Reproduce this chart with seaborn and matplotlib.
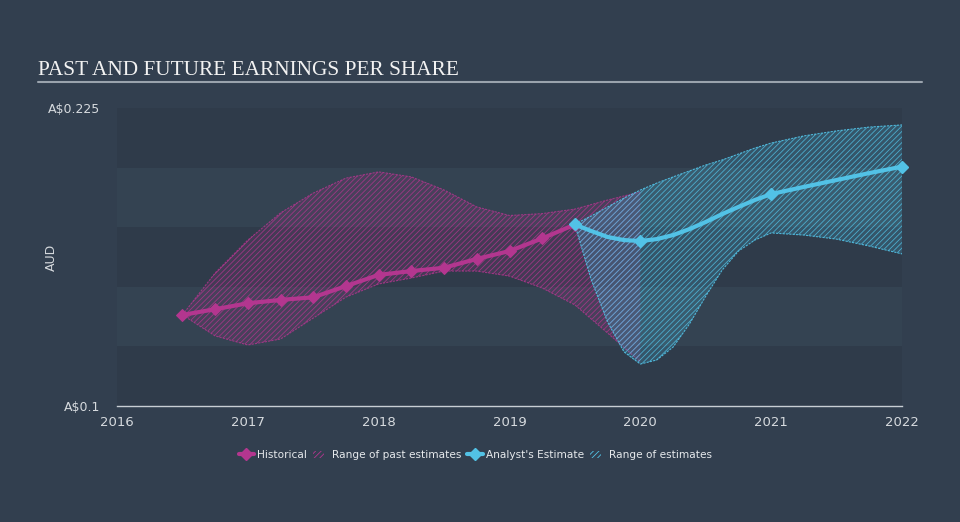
import numpy as np
import pandas as pd
import seaborn as sns
import matplotlib.pyplot as plt
from matplotlib.lines import Line2D
from matplotlib.patches import Patch

# historical EPS (quarterly, decimal years)
hist_years = [2016.5, 2016.75, 2017.0, 2017.25, 2017.5, 2017.75, 2018.0, 2018.25,
              2018.5, 2018.75, 2019.0, 2019.25, 2019.5]
hist_eps = [0.1382, 0.1406, 0.1431, 0.1445, 0.1456, 0.1503, 0.1550, 0.1566,
            0.1580, 0.1617, 0.1650, 0.1703, 0.1761]

# range of past estimates
past_years = [2016.5, 2016.75, 2017.0, 2017.25, 2017.5, 2017.75, 2018.0, 2018.25,
              2018.5, 2018.75, 2019.0, 2019.25, 2019.5, 2019.75, 2020.0]
past_high = [0.1382, 0.1558, 0.1696, 0.1810, 0.1893, 0.1956, 0.1982, 0.1961,
             0.1906, 0.1835, 0.1799, 0.1807, 0.1826, 0.1864, 0.1898]
past_low = [0.1382, 0.1294, 0.1256, 0.1281, 0.1369, 0.1457, 0.1512, 0.1537,
            0.1566, 0.1566, 0.1545, 0.1495, 0.1424, 0.1306, 0.1185]

# analyst estimates
est_years = [2019.5, 2020.0, 2021.0, 2022.0]
est_eps = [0.1763, 0.1692, 0.1889, 0.2004]
band_years = [2019.5, 2019.625, 2019.75, 2019.875, 2020.0, 2020.125, 2020.25, 2020.375,
              2020.5, 2020.625, 2020.75, 2020.875, 2021.0, 2021.25, 2021.5, 2021.75, 2022.0]
est_line_eps = [0.1761, 0.1734, 0.1709, 0.1696, 0.1692, 0.1700, 0.1717, 0.1742,
                0.1772, 0.1805, 0.1835, 0.1864, 0.1889, 0.1919, 0.1948, 0.1977, 0.2004]
est_high = [0.1763, 0.1797, 0.1835, 0.1872, 0.1906, 0.1935, 0.1961, 0.1986,
            0.2011, 0.2032, 0.2057, 0.2082, 0.2103, 0.2133, 0.2154, 0.2170, 0.2179]
est_low = [0.1759, 0.1529, 0.1352, 0.1227, 0.1176, 0.1193, 0.1247, 0.1344,
           0.1461, 0.1570, 0.1650, 0.1696, 0.1726, 0.1717, 0.1700, 0.1671, 0.1638]

year_ticks = [2016, 2017, 2018, 2019, 2020, 2021, 2022]

bg = '#323f4f'
dark_band = '#2f3b4a'
light_band = '#344352'
magenta = '#b3368f'
blue = '#52c2e6'
txt = '#d6dade'

sns.set_style('dark')
plt.rcParams['hatch.linewidth'] = 0.6
plt.rcParams['font.family'] = ['DejaVu Sans']

fig = plt.figure(figsize=(9.6, 5.22), dpi=100, facecolor=bg)
ax = fig.add_axes([0.1219, 0.2222, 0.8177, 0.5709])
ax.set_facecolor(light_band)

# horizontal bands
for i, lo in enumerate(np.arange(0.1, 0.225, 0.025)):
    ax.axhspan(lo, lo + 0.025, color=dark_band if i % 2 == 0 else light_band, lw=0, zorder=0)

# past estimates range
ax.fill_between(past_years, past_low, past_high, facecolor=(0.70, 0.21, 0.56, 0.16),
                edgecolor=(0.70, 0.21, 0.56, 0.8), hatch='//////', lw=0, zorder=1)
ax.plot(past_years, past_high, color=magenta, lw=0.8, ls=(0, (2, 1)), alpha=0.8, zorder=1)
ax.plot(past_years, past_low, color=magenta, lw=0.8, ls=(0, (2, 1)), alpha=0.8, zorder=1)

# future estimates range
ax.fill_between(band_years, est_low, est_high, facecolor=(0.32, 0.76, 0.90, 0.2),
                edgecolor=(0.32, 0.76, 0.90, 0.8), hatch='//////', lw=0, zorder=2)
ax.plot(band_years, est_high, color=blue, lw=0.8, ls=(0, (2, 1)), alpha=0.9, zorder=2)
ax.plot(band_years, est_low, color=blue, lw=0.8, ls=(0, (2, 1)), alpha=0.9, zorder=2)

hist = pd.DataFrame({'year': hist_years, 'eps': hist_eps})
sns.lineplot(data=hist, x='year', y='eps', ax=ax, color=magenta, lw=3, marker='D',
             markersize=6, markeredgecolor=magenta, zorder=4)

est_line = pd.DataFrame({'year': band_years, 'eps': est_line_eps})
sns.lineplot(data=est_line, x='year', y='eps', ax=ax, color=blue, lw=3, zorder=5)
ax.plot(est_years, est_eps, ls='none', marker='D', markersize=6, color=blue,
        clip_on=False, zorder=6)

ax.set_xlim(2016, 2022)
ax.set_ylim(0.1, 0.225)
ax.set_xticks(year_ticks)
ax.set_xticklabels([str(y) for y in year_ticks], color=txt, fontsize=9.5)
ax.set_yticks([0.1, 0.225])
ax.set_yticklabels(['A$0.1', 'A$0.225'], color=txt, fontsize=9)
ax.tick_params(axis='x', colors='#c8ced4', length=5, width=1, direction='out', pad=2,
               labelcolor=txt)
ax.tick_params(axis='y', length=0, pad=12)
ax.set_xlabel('')
ax.set_ylabel('AUD', color=txt, fontsize=9)
ax.yaxis.set_label_coords(-0.075, 0.5)
for s in ['top', 'right', 'left']:
    ax.spines[s].set_visible(False)
ax.spines['bottom'].set_color('#c8ced4')
ax.spines['bottom'].set_linewidth(1)
ax.grid(False)

# title with underline
fig.text(0.040, 0.857, 'PAST AND FUTURE EARNINGS PER SHARE', fontsize=15.3,
         family='Liberation Serif', color='#f2f2f2', va='baseline')
fig.add_artist(Line2D([0.040, 0.960], [0.843, 0.843], color='#9aa3ad', lw=1.5))

handles = [
    Line2D([0], [0], color=magenta, lw=3, marker='D', markersize=6),
    Patch(facecolor='none', edgecolor=magenta, hatch='//////', lw=0),
    Line2D([0], [0], color=blue, lw=3, marker='D', markersize=6),
    Patch(facecolor='none', edgecolor=blue, hatch='//////', lw=0),
]
labels = ['Historical', 'Range of past estimates', "Analyst's Estimate", 'Range of estimates']
leg = fig.legend(handles, labels, loc='center', bbox_to_anchor=(0.495, 0.128), ncol=4,
                 frameon=False, fontsize=7.6, handlelength=1.5, handletextpad=0.25,
                 columnspacing=0.6, labelcolor='#e6e9ec')
for h in leg.legend_handles[1::2]:
    h.set_width(8)

fig.savefig('out.png', dpi=100, facecolor=bg)
